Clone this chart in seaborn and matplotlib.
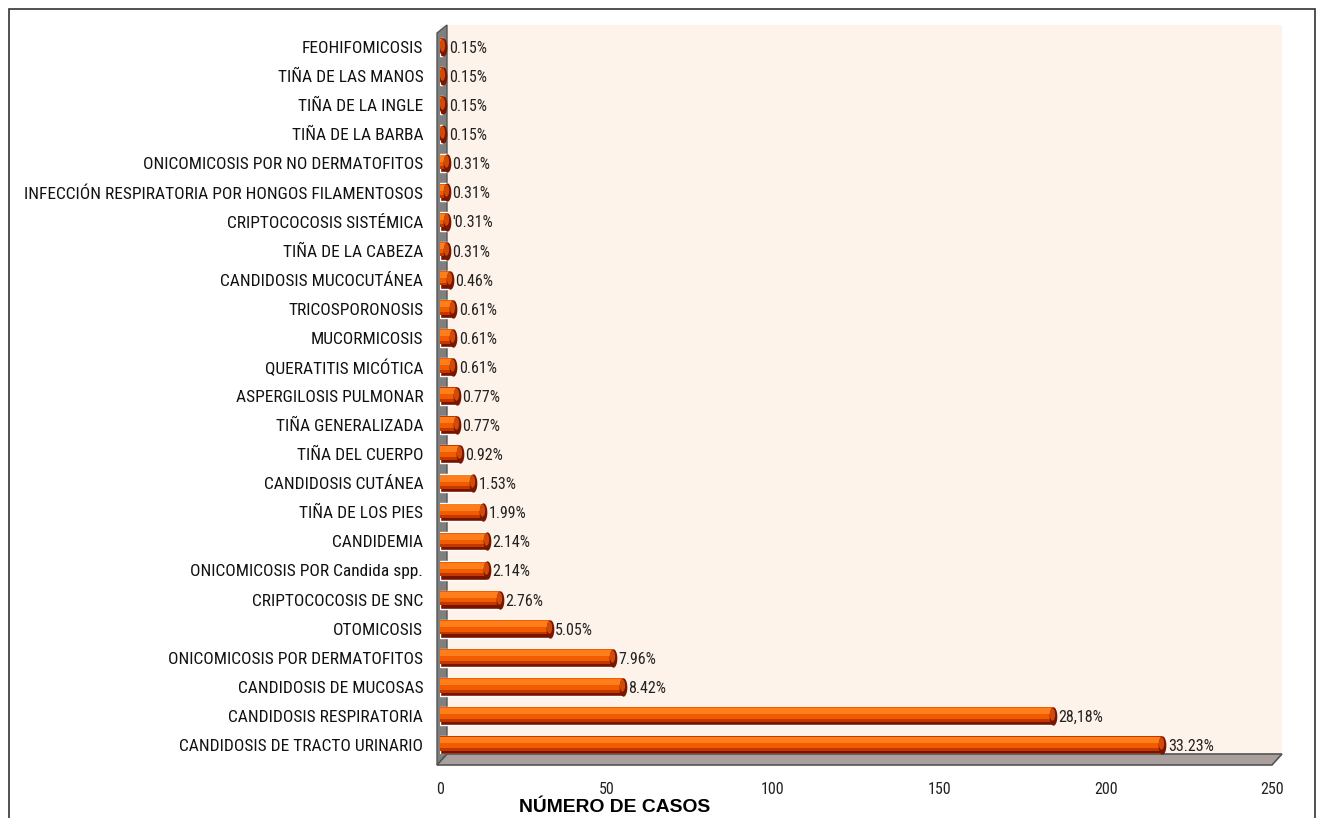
import numpy as np
import pandas as pd
import matplotlib
matplotlib.use("Agg")
import matplotlib.pyplot as plt
import seaborn as sns
from matplotlib.patches import Polygon, Rectangle
from matplotlib.path import Path

# ---------------- data (top to bottom as shown) ----------------
categories = [
    "FEOHIFOMICOSIS",
    "TIÑA DE LAS MANOS",
    "TIÑA DE LA INGLE",
    "TIÑA DE LA BARBA",
    "ONICOMICOSIS POR NO DERMATOFITOS",
    "INFECCIÓN RESPIRATORIA POR HONGOS FILAMENTOSOS",
    "CRIPTOCOCOSIS SISTÉMICA",
    "TIÑA DE LA CABEZA",
    "CANDIDOSIS MUCOCUTÁNEA",
    "TRICOSPORONOSIS",
    "MUCORMICOSIS",
    "QUERATITIS MICÓTICA",
    "ASPERGILOSIS PULMONAR",
    "TIÑA GENERALIZADA",
    "TIÑA DEL CUERPO",
    "CANDIDOSIS CUTÁNEA",
    "TIÑA DE LOS PIES",
    "CANDIDEMIA",
    "ONICOMICOSIS POR Candida spp.",
    "CRIPTOCOCOSIS DE SNC",
    "OTOMICOSIS",
    "ONICOMICOSIS POR DERMATOFITOS",
    "CANDIDOSIS DE MUCOSAS",
    "CANDIDOSIS RESPIRATORIA",
    "CANDIDOSIS DE TRACTO URINARIO",
]
cases = [1, 1, 1, 1, 2, 2, 2, 2, 3, 4, 4, 4, 5, 5, 6, 10, 13, 14, 14, 18, 33, 52, 55, 184, 217]
pct_labels = ["0.15%", "0.15%", "0.15%", "0.15%", "0.31%", "0.31%", "'0.31%", "0.31%",
              "0.46%", "0.61%", "0.61%", "0.61%", "0.77%", "0.77%", "0.92%", "1.53%",
              "1.99%", "2.14%", "2.14%", "2.76%", "5.05%", "7.96%", "8.42%", "28,18%", "33.23%"]
x_ticks = [0, 50, 100, 150, 200, 250]
x_label = "NÚMERO DE CASOS"

# ---------------- style ----------------
sns.set_theme(style="white")
plt.rcParams["font.family"] = ["Roboto Condensed", "Liberation Sans", "DejaVu Sans"]

W, H = 1322, 818
fig = plt.figure(figsize=(W / 100, H / 100), dpi=100)
fig.patch.set_facecolor("white")


def fx(px):
    return px / W


def fy(py):
    return 1 - py / H


ax_left, ax_right, ax_top, ax_bot = 440, 1282, 25, 754
ax = fig.add_axes([fx(ax_left), fy(ax_bot), (ax_right - ax_left) / W, (ax_bot - ax_top) / H])
ax.set_facecolor("#FDF3EB")

df = pd.DataFrame({"cat": pd.Categorical(categories, categories=categories, ordered=True),
                   "n": cases})
sns.barplot(data=df, x="n", y="cat", orient="h", color="#761400", saturation=1,
            width=0.62, ax=ax, zorder=3, order=categories)

pos = np.arange(len(categories))
vals = np.array(cases, dtype=float)
# cylinder shading layers (y axis is inverted: smaller y = higher)
ax.barh(pos - 0.05, vals, height=0.50, color="#C43800", zorder=4, linewidth=0)
ax.barh(pos - 0.095, vals, height=0.39, color="#F25C00", zorder=5, linewidth=0)
ax.barh(pos - 0.165, vals, height=0.21, color="#FF7E1C", zorder=6, linewidth=0)

# rounded end caps
t = np.linspace(0, 2 * np.pi, 50)
ell = Path(np.c_[0.42 * np.cos(t), np.sin(t)])
ax.scatter(vals, pos, marker=ell, s=175, color="#7A1600", zorder=7, linewidths=0)
ax.scatter(vals - 0.3, pos - 0.07, marker=ell, s=80, color="#D24A08", zorder=8, linewidths=0)

for v, y, lab in zip(vals, pos, pct_labels):
    ax.text(v + 1.6, y + 0.05, lab, va="center", ha="left", fontsize=11.5, color="#222222", zorder=9)

ax.set_xlim(0, 252.9)
ax.set_ylim(24.31, -0.757)
ax.set_xticks(x_ticks)
ax.set_xticklabels([str(v) for v in x_ticks])
ax.set_xlabel("")
ax.set_ylabel("")
for s in ax.spines.values():
    s.set_visible(False)
ax.tick_params(axis="both", length=0)
ax.tick_params(axis="x", pad=20, labelsize=11.5, labelcolor="#222222")
ax.tick_params(axis="y", pad=12, labelsize=12.5, labelcolor="#111111")

# 3-D left wall and floor
wall = Polygon([(fx(437), fy(33)), (fx(447), fy(25)), (fx(447), fy(754)), (fx(437), fy(765))],
               closed=True, facecolor="#7F7F7F", edgecolor="#555555", lw=1,
               transform=fig.transFigure, clip_on=False, zorder=2)
ax.add_patch(wall)
floor = Polygon([(fx(437), fy(765)), (fx(447), fy(754)), (fx(1282), fy(754)), (fx(1272), fy(765))],
                closed=True, facecolor="#A9A09D", edgecolor="#555555", lw=1.2,
                transform=fig.transFigure, clip_on=False, zorder=2)
ax.add_patch(floor)

fig.text(fx(615), fy(808), x_label, ha="center", va="center", fontweight="bold",
         fontsize=13.9, color="black", family=["Liberation Sans", "DejaVu Sans"])

border = Rectangle((fx(9), fy(840)), (1315 - 9) / W, (840 - 9) / H, transform=fig.transFigure,
                   fill=False, edgecolor="#333333", lw=1.2)
fig.add_artist(border)

fig.savefig("out.png", dpi=100)
